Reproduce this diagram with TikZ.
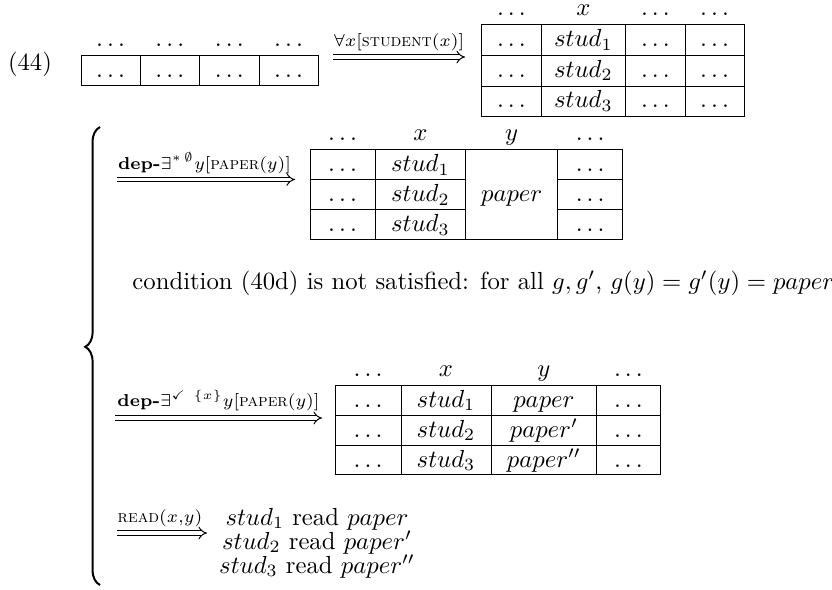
\documentclass[tikz,border=0pt]{standalone}
\usepackage{amsmath,amssymb}
\usetikzlibrary{arrows.meta,decorations.pathreplacing}
\begin{document}
\begin{tikzpicture}[x=0.4049pt,y=-0.4049pt,
  rulel/.style={line width=0.4pt},
  cell/.style={anchor=base, inner sep=0pt},
  darr/.style={double, double distance=1.4pt, line width=0.4pt, -{Implies[scale=1.4]}},
  lab/.style={anchor=base, inner sep=0pt},
  bracel/.style={decorate, decoration={brace, amplitude=6pt, aspect=0.52}, line width=0.8pt}]
\useasboundingbox (0,0) rectangle (832,589);

% (44)
\node[cell] (num) at (30,70) {$(44)$};

% ---------- table A (top left)
\draw[rulel] (81,55.5) rectangle (318,85.8);
\foreach \x in {140,199.7,259} \draw[rulel] (\x,55.5) -- (\x,85.8);
\foreach \x [count=\i] in {110.5,169.9,229.4,288.5} {
  \node[cell] (ah\i) at (\x,46.5) {$\ldots$};
  \node[cell] (ac\i) at (\x,77) {$\ldots$};
}

% arrow 1
\coordinate (a1s) at (333,57);
\coordinate (a1e) at (465,57);
\draw[darr] (a1s) -- (a1e);
\node[lab] (l1) at (399,46) {$\scriptstyle\forall x[\text{\textsc{student}}(x)]$};

% ---------- table B (top right)
\draw[rulel] (481.7,24.3) rectangle (744,116);
\foreach \y in {55,86} \draw[rulel] (481.7,\y) -- (744,\y);
\foreach \x in {541,625.7,685} \draw[rulel] (\x,24.3) -- (\x,116);
\node[cell] (bh1) at (511.4,15.7) {$\ldots$};
\node[cell] (bh2) at (583.4,15.7) {$x$};
\node[cell] (bh3) at (655.4,15.7) {$\ldots$};
\node[cell] (bh4) at (714.5,15.7) {$\ldots$};
\foreach \y [count=\r] in {46.3,77,107.6} {
  \node[cell] (b\r1) at (511.4,\y) {$\ldots$};
  \node[cell] (b\r2) at (583.4,\y) {$stud_\r$};
  \node[cell] (b\r3) at (655.4,\y) {$\ldots$};
  \node[cell] (b\r4) at (714.5,\y) {$\ldots$};
}

% brace
\coordinate (brb) at (100,585);
\coordinate (brt) at (100,127);
\draw[bracel] (brb) -- (brt);

% arrow 2
\coordinate (a2s) at (117,179.5);
\coordinate (a2e) at (295,179.5);
\draw[darr] (a2s) -- (a2e);
\node[lab] (l2) at (204.5,169) {$\scriptstyle\text{\textbf{dep-}}\exists^{*\,\emptyset}y[\text{\textsc{paper}}(y)]$};

% ---------- table C (paper merged)
\draw[rulel] (310,149.3) rectangle (622.7,239);
\foreach \y in {179.8,209.3} {
  \draw[rulel] (310,\y) -- (465.7,\y);
  \draw[rulel] (557.7,\y) -- (622.7,\y);
}
\foreach \x in {375,465.7,557.7} \draw[rulel] (\x,149.3) -- (\x,239);
\node[cell] (ch1) at (342.5,140.7) {$\ldots$};
\node[cell] (ch2) at (420.4,140.7) {$x$};
\node[cell] (ch3) at (511.7,140.7) {$y$};
\node[cell] (ch4) at (590.2,140.7) {$\ldots$};
\foreach \y [count=\r] in {171.3,201.5,231.5} {
  \node[cell] (c\r1) at (342.5,\y) {$\ldots$};
  \node[cell] (c\r2) at (420.4,\y) {$stud_\r$};
  \node[cell] (c\r4) at (590.2,\y) {$\ldots$};
}
\node[cell] (cpaper) at (511.7,201.5) {$paper$};

% condition
\node[anchor=base west, inner sep=0pt] (cond) at (132,289)
  {condition (40d) is not satisfied: for all $g, g'$, $g(y) = g'(y) = paper$};

% arrow 3
\coordinate (a3s) at (115,418);
\coordinate (a3e) at (322,418);
\draw[darr] (a3s) -- (a3e);
\node[lab] (l3) at (218.5,406.5) {$\scriptstyle\text{\textbf{dep-}}\exists^{\checkmark\ \{x\}}y[\text{\textsc{paper}}(y)]$};

% ---------- table D
\draw[rulel] (335,385) rectangle (660,474.3);
\foreach \y in {415,445} \draw[rulel] (335,\y) -- (660,\y);
\foreach \x in {401,491,596.7} \draw[rulel] (\x,385) -- (\x,474.3);
\node[cell] (dh1) at (368,376.5) {$\ldots$};
\node[cell] (dh2) at (446,376.5) {$x$};
\node[cell] (dh3) at (543.9,376.5) {$y$};
\node[cell] (dh4) at (628.4,376.5) {$\ldots$};
\node[cell] (d11) at (368,407) {$\ldots$};
\node[cell] (d12) at (446,407) {$stud_1$};
\node[cell] (d13) at (543.9,407) {$paper$};
\node[cell] (d14) at (628.4,407) {$\ldots$};
\node[cell] (d21) at (368,437) {$\ldots$};
\node[cell] (d22) at (446,437) {$stud_2$};
\node[cell] (d23) at (543.9,437) {$paper'$};
\node[cell] (d24) at (628.4,437) {$\ldots$};
\node[cell] (d31) at (368,467) {$\ldots$};
\node[cell] (d32) at (446,467) {$stud_3$};
\node[cell] (d33) at (543.9,467) {$paper''$};
\node[cell] (d34) at (628.4,467) {$\ldots$};

% arrow 4
\coordinate (a4s) at (117,533);
\coordinate (a4e) at (207,533);
\draw[darr] (a4s) -- (a4e);
\node[lab] (l4) at (160,522) {$\scriptstyle\text{\textsc{read}}(x,y)$};

% read lines
\node[cell] (r1) at (317,525) {$stud_1$ read $paper$};
\node[cell] (r2) at (317,549) {$stud_2$ read $paper'$};
\node[cell] (r3) at (317,573) {$stud_3$ read $paper''$};
\end{tikzpicture}
\end{document}
